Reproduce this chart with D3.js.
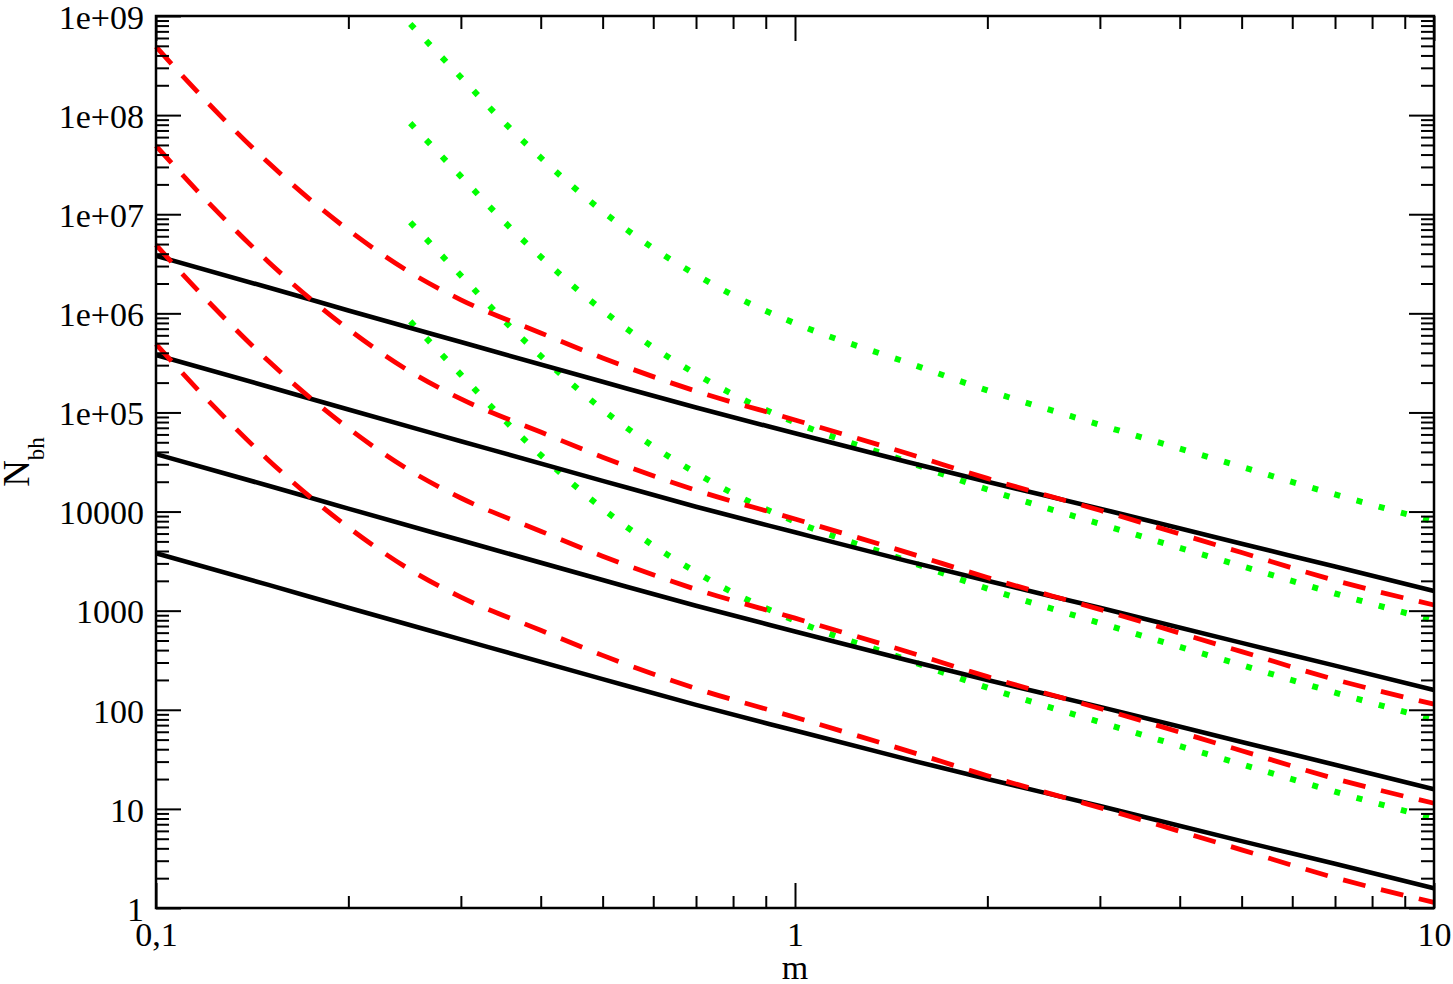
<!DOCTYPE html>
<html>
<head>
<meta charset="utf-8">
<script src="https://cdn.jsdelivr.net/npm/d3@7"></script>
<style>
  body { margin: 0; background: #fff; }
  text { font-family: "Liberation Serif", "Times New Roman", serif; fill: #000; }
</style>
</head>
<body>
<div id="chart"></div>
<script>
// tick labels
const xMajor = [0.1, 1, 10];
const xLabels = ["0,1", "1", "10"];
const yMajor = [1, 10, 100, 1000, 10000, 1e5, 1e6, 1e7, 1e8, 1e9];
const yLabels = ["1", "10", "100", "1000", "10000", "1e+05", "1e+06", "1e+07", "1e+08", "1e+09"];

// solid black lines
const blackX = [0.1, 0.15, 0.2, 0.3, 0.5, 0.7, 1, 1.5, 2, 3, 5, 7, 10];
const black1 = [3800000, 1820000, 1070000, 513000, 204000, 112000, 61700, 31600, 20000, 10700, 4730, 2790, 1580];
const black2 = [380000, 182000, 107000, 51300, 20400, 11200, 6170, 3160, 2000, 1070, 473, 279, 158];
const black3 = [38000, 18200, 10700, 5130, 2040, 1120, 617, 316, 200, 107, 47.3, 27.9, 15.8];
const black4 = [3800, 1820, 1070, 513, 204, 112, 61.7, 31.6, 20.0, 10.7, 4.73, 2.79, 1.58];

// red dashed curves
const redX = [0.1, 0.12, 0.15, 0.2, 0.25, 0.3, 0.4, 0.5, 0.7, 1, 1.5, 2, 3, 5, 7, 10];
const red1 = [4.9e8, 1.37e8, 3.3e7, 6.93e6, 2.58e6, 1.37e6, 6.34e5, 3.54e5, 1.64e5, 84000, 38500, 21600, 10300, 3860, 2020, 1140];
const red2 = [4.9e7, 1.37e7, 3.3e6, 6.93e5, 2.58e5, 1.37e5, 63400, 35400, 16400, 8400, 3850, 2160, 1030, 386, 202, 114];
const red3 = [4.9e6, 1.37e6, 3.3e5, 69300, 25800, 13700, 6340, 3540, 1640, 840, 385, 216, 103, 38.6, 20.2, 11.4];
const red4 = [4.9e5, 1.37e5, 33000, 6930, 2580, 1370, 634, 354, 164, 84, 38.5, 21.6, 10.3, 3.86, 2.02, 1.14];

// green dotted curves
const greenX = [0.25, 0.3, 0.35, 0.4, 0.5, 0.6, 0.7, 0.8, 1, 1.5, 2, 3, 5, 7, 10];
const green1 = [8.3e8, 2.41e8, 8.53e7, 3.72e7, 1.07e7, 4.54e6, 2.45e6, 1.52e6, 7.93e5, 3.18e5, 1.67e5, 75000, 28200, 14900, 7940];
const green2 = [8.3e7, 2.41e7, 8.53e6, 3.72e6, 1.07e6, 4.54e5, 2.45e5, 1.52e5, 79300, 31800, 16700, 7500, 2820, 1490, 794];
const green3 = [8.3e6, 2.41e6, 8.53e5, 3.72e5, 1.07e5, 45400, 24500, 15200, 7930, 3180, 1670, 750, 282, 149, 79.4];
const green4 = [8.3e5, 2.41e5, 85300, 37200, 10700, 4540, 2450, 1520, 793, 318, 167, 75, 28.2, 14.9, 7.94];

// margins and dimensions
const margin = {top: 16, right: 19, bottom: 76, left: 156};
const width = 1453 - margin.left - margin.right;
const height = 984 - margin.top - margin.bottom;

const svg = d3.select("#chart")
  .append("svg")
  .attr("width", width + margin.left + margin.right)
  .attr("height", height + margin.top + margin.bottom);

const chart = svg.append("g")
  .attr("transform", `translate(${margin.left}, ${margin.top})`);

// scales
const x = d3.scaleLog().domain([0.1, 10]).range([0, width]);
const y = d3.scaleLog().domain([1, 1e9]).range([height, 0]);

// minor tick positions 2..9 in each decade
const xMinor = [];
[0.1, 1].forEach(d => { for (let k = 2; k <= 9; k++) xMinor.push(d * k); });
const yMinor = [];
yMajor.slice(0, -1).forEach(d => { for (let k = 2; k <= 9; k++) yMinor.push(d * k); });

// curves
const line = d3.line()
  .x(d => x(d[0]))
  .y(d => y(d[1]))
  .curve(d3.curveMonotoneX);

const pairs = (xs, ys) => xs.map((v, i) => [v, ys[i]]);

chart.append("g")
  .selectAll("path")
  .data([green1, green2, green3, green4])
  .join("path")
  .attr("d", d => line(pairs(greenX, d)))
  .attr("fill", "none")
  .attr("stroke", "#00ff00")
  .attr("stroke-width", 6)
  .attr("stroke-dasharray", "6 17");

chart.append("g")
  .selectAll("path")
  .data([black1, black2, black3, black4])
  .join("path")
  .attr("d", d => line(pairs(blackX, d)))
  .attr("fill", "none")
  .attr("stroke", "#000")
  .attr("stroke-width", 4.6);

chart.append("g")
  .selectAll("path")
  .data([red1, red2, red3, red4])
  .join("path")
  .attr("d", d => line(pairs(redX, d)))
  .attr("fill", "none")
  .attr("stroke", "#ff0000")
  .attr("stroke-width", 4.8)
  .attr("stroke-dasharray", "23 16");

// axes (inward ticks on all four sides)
function addAxis(axis, transform) {
  const g = chart.append("g").attr("transform", transform).call(axis);
  g.select(".domain").remove();
  g.selectAll(".tick line").attr("stroke", "#000").attr("stroke-width", 2);
  g.selectAll("text").attr("font-size", 34).attr("fill", "#000")
    .attr("font-family", "'Liberation Serif', 'Times New Roman', serif");
  return g;
}

addAxis(d3.axisBottom(x).tickValues(xMajor).tickSize(-25).tickPadding(14)
  .tickFormat((d, i) => xLabels[i]), `translate(0, ${height})`);
addAxis(d3.axisBottom(x).tickValues(xMinor).tickSize(-12).tickFormat(""), `translate(0, ${height})`);
addAxis(d3.axisTop(x).tickValues(xMajor).tickSize(-25).tickFormat(""), "translate(0, 0)");
addAxis(d3.axisTop(x).tickValues(xMinor).tickSize(-13).tickFormat(""), "translate(0, 0)");

const yAxisGroup = addAxis(d3.axisLeft(y).tickValues(yMajor).tickSize(-25).tickPadding(12)
  .tickFormat((d, i) => yLabels[i]), "translate(0, 0)");
yAxisGroup.selectAll("text").attr("dy", "0.36em");
addAxis(d3.axisLeft(y).tickValues(yMinor).tickSize(-13).tickFormat(""), "translate(0, 0)");
addAxis(d3.axisRight(y).tickValues(yMajor).tickSize(-25).tickFormat(""), `translate(${width}, 0)`);
addAxis(d3.axisRight(y).tickValues(yMinor).tickSize(-13).tickFormat(""), `translate(${width}, 0)`);

// frame
chart.append("rect")
  .attr("width", width)
  .attr("height", height)
  .attr("fill", "none")
  .attr("stroke", "#000")
  .attr("stroke-width", 2.5);

// axis titles
svg.append("text")
  .attr("x", margin.left + x(1))
  .attr("y", 979)
  .attr("text-anchor", "middle")
  .attr("font-size", 34)
  .text("m");

const yTitle = svg.append("text")
  .attr("transform", `translate(29, ${margin.top + height / 2}) rotate(-90)`)
  .attr("text-anchor", "middle")
  .attr("font-size", 37);
yTitle.append("tspan").text("N");
yTitle.append("tspan").attr("font-size", 23).attr("dy", 15).text("bh");
</script>
</body>
</html>
